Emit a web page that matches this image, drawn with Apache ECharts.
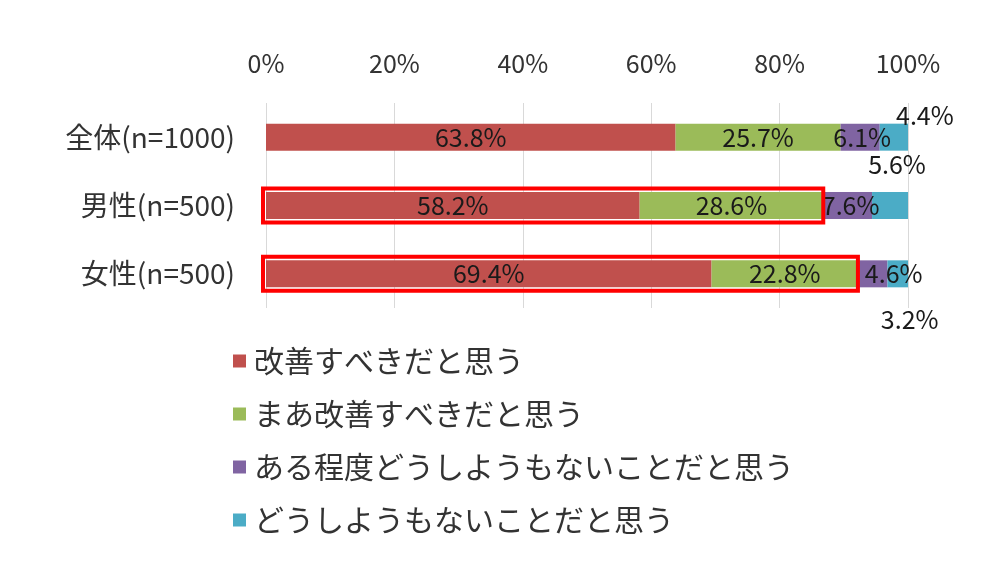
<!DOCTYPE html>
<html><head><meta charset="utf-8">
<script src="https://cdn.jsdelivr.net/npm/echarts@6/dist/echarts.min.js"></script>
<style>html,body{margin:0;padding:0;background:#fff}#c{width:998px;height:570px}</style>
</head><body><div id="c"></div>
<script>
const categories = ['全体(n=1000)', '男性(n=500)', '女性(n=500)'];
const seriesNames = ['改善すべきだと思う', 'まあ改善すべきだと思う', 'ある程度どうしようもないことだと思う', 'どうしようもないことだと思う'];
const s1 = [63.8, 58.2, 69.4];
const s2 = [25.7, 28.6, 22.8];
const s3 = [6.1, 7.6, 4.6];
const s4 = [4.4, 5.6, 3.2];
const xTicks = [0, 20, 40, 60, 80, 100];
const highlightRows = [1, 2];

const colors = ['#C0504D', '#9BBB59', '#8064A2', '#4BACC6'];
const FONT = '"Noto Sans CJK JP", "Noto Sans", sans-serif';
const values = [s1, s2, s3, s4];

// label offsets for small segments [series][row]
const labelOffsets = {
  '2-0': [2, 0],
  '2-1': [3, 0],
  '2-2': [21, 0],
  '3-0': [31, -22],
  '3-1': [7, -41],
  '3-2': [12, 46]
};

const series = values.map((arr, si) => ({
  name: seriesNames[si],
  type: 'bar',
  stack: 'total',
  barWidth: 27,
  itemStyle: { color: colors[si] },
  label: { show: true, position: 'inside', formatter: p => p.value.toFixed(1) + '%', fontSize: 25, color: '#1a1a1a', fontFamily: FONT },
  data: arr.map((v, ri) => {
    const off = labelOffsets[si + '-' + ri];
    return off ? { value: v, label: { offset: off } } : v;
  })
}));

const chart = echarts.init(document.getElementById('c'), null, { renderer: 'canvas' });
chart.setOption({
  animation: false,
  textStyle: { fontFamily: FONT },
  grid: { left: 266, right: 90, top: 103, bottom: 262 },
  xAxis: {
    type: 'value', position: 'top', min: 0, max: 100, interval: 20,
    axisLabel: { formatter: v => xTicks.includes(v) ? v + '%' : '', fontSize: 25, color: '#333', fontFamily: FONT, margin: 27 },
    axisLine: { show: false }, axisTick: { show: false },
    splitLine: { show: true, lineStyle: { color: '#d9d9d9', width: 1 } }
  },
  yAxis: {
    type: 'category', data: categories, inverse: true,
    axisLabel: { fontSize: 28, color: '#333', fontFamily: FONT, margin: 31 },
    axisLine: { show: false }, axisTick: { show: false }
  },
  legend: {
    orient: 'vertical', left: 228, top: 341, itemGap: 23,
    itemWidth: 13, itemHeight: 13, icon: 'rect',
    textStyle: { fontSize: 30, color: '#333', fontFamily: FONT, padding: [0, 0, 0, 3] },
    data: seriesNames
  },
  series: series
});

// red highlight boxes around first two segments of selected rows
const graphics = highlightRows.map(ri => {
  const end = s1[ri] + s2[ri];
  const p0 = chart.convertToPixel({ xAxisIndex: 0, yAxisIndex: 0 }, [0, ri]);
  const p1 = chart.convertToPixel({ xAxisIndex: 0, yAxisIndex: 0 }, [end, ri]);
  return {
    type: 'rect',
    shape: { x: p0[0] - 3, y: p0[1] - 17, width: p1[0] - p0[0] + 3, height: 34 },
    style: { fill: 'none', stroke: '#FF0000', lineWidth: 4 },
    z: 100
  };
});
chart.setOption({ graphic: graphics });
</script></body></html>
